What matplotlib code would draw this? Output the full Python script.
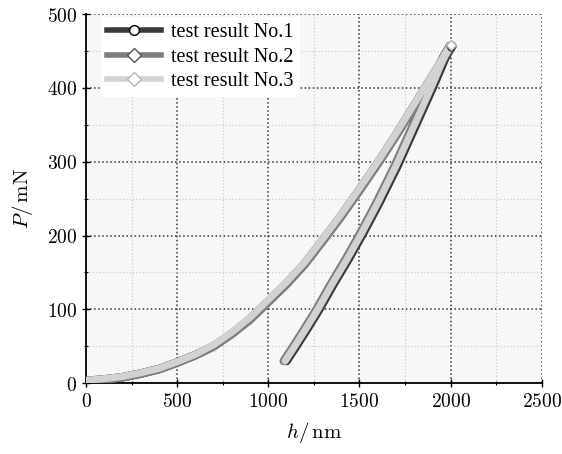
import numpy as np
import matplotlib.pyplot as plt
from matplotlib.lines import Line2D
from matplotlib.ticker import MultipleLocator, FuncFormatter

plt.rcParams['mathtext.fontset'] = 'cm'

# loading branch (h in nm, P in mN)
load_h = [0, 100, 200, 300, 400, 500, 600, 700, 800, 900, 1000,
          1100, 1200, 1300, 1400, 1500, 1600, 1700, 1800, 1900, 2000]
load_p1 = [3, 5, 8, 13, 19, 28, 38, 50, 67, 87, 111,
           135, 162, 194, 227, 262, 298, 336, 376, 416, 456]
load_p2 = [3, 5, 8, 13, 19, 28, 38, 50, 67, 86, 110,
           134, 161, 193, 226, 261, 297, 335, 375, 415, 457]
load_p3 = [4, 6, 9, 14, 20, 29, 39, 52, 69, 89, 113,
           137, 164, 196, 229, 264, 300, 338, 378, 418, 458]

# unloading branch
unload_p = [457, 440, 405, 350, 295, 245, 203, 168, 135, 100, 72, 45, 30]
unload_h1 = [2008, 1970, 1910, 1810, 1710, 1610, 1520, 1440, 1360, 1280, 1210, 1140, 1100]
unload_h2 = [1996, 1955, 1895, 1795, 1695, 1595, 1505, 1425, 1345, 1265, 1195, 1125, 1085]
unload_h3 = [2000, 1962, 1902, 1802, 1702, 1602, 1512, 1432, 1352, 1272, 1202, 1132, 1092]

labels = ['test result No.1', 'test result No.2', 'test result No.3']
colors = ['#3a3a3a', '#7e7e7e', '#d2d2d2']
edges = ['#000000', '#555555', '#b5b5b5']
markers = ['o', 'D', 'D']

series = [
    (load_h + unload_h1, load_p1 + unload_p),
    (load_h + unload_h2, load_p2 + unload_p),
    (load_h + unload_h3, load_p3 + unload_p),
]

fig = plt.figure(figsize=(5.62, 4.54), dpi=100)
ax = fig.add_axes([0.153, 0.156, 0.811, 0.813])
ax.set_facecolor('#f7f7f7')

widths = [6.2, 6.2, 5]
for (h, p), c, w in zip(series, colors, widths):
    ax.plot(h, p, color=c, lw=w, solid_joinstyle='round', solid_capstyle='round', zorder=3)
# hollow markers bunched at the peak
for (h, p), e, m in zip(series, edges, markers):
    i = len(load_h) - 1
    ax.plot(h[i], p[i], m, ms=5, mfc='white', mec=e, mew=1, zorder=4)

ax.set_xlim(0, 2500)
ax.set_ylim(0, 500)
ax.xaxis.set_major_locator(MultipleLocator(500))
ax.xaxis.set_minor_locator(MultipleLocator(250))
ax.yaxis.set_major_locator(MultipleLocator(100))
ax.yaxis.set_minor_locator(MultipleLocator(50))
fmt = FuncFormatter(lambda v, pos: r'$%d$' % v)
ax.xaxis.set_major_formatter(fmt)
ax.yaxis.set_major_formatter(fmt)

ax.grid(which='major', color='#333333', linestyle=':', lw=1.1, zorder=1)
ax.grid(which='minor', color='#cccccc', linestyle=':', lw=0.9, zorder=1)
ax.set_axisbelow(True)

ax.spines['top'].set_visible(False)
ax.spines['right'].set_visible(False)
ax.spines['left'].set_linewidth(1.3)
ax.spines['bottom'].set_linewidth(1.3)
ax.tick_params(which='major', direction='inout', length=6, width=1, labelsize=14)
ax.tick_params(which='minor', direction='inout', length=3.5, width=0.8)

ax.set_xlabel(r'$h/\,\mathrm{nm}$', fontsize=15, labelpad=6)
ax.set_ylabel(r'$P/\,\mathrm{mN}$', fontsize=15, labelpad=8)

handles = [Line2D([], [], color=c, lw=4, marker=m, ms=7, mfc='white', mec=e, mew=1)
           for c, e, m in zip(colors, edges, markers)]
leg = ax.legend(handles, labels, loc='upper left', bbox_to_anchor=(0.01, 1.02),
                prop={'family': 'Liberation Serif', 'size': 14.5},
                handlelength=2.7, handletextpad=0.5, labelspacing=0.28,
                frameon=True, fancybox=False, framealpha=1, borderpad=0.3)
leg.get_frame().set_edgecolor('none')
leg.get_frame().set_facecolor('white')

fig.savefig('out.png', dpi=100)
